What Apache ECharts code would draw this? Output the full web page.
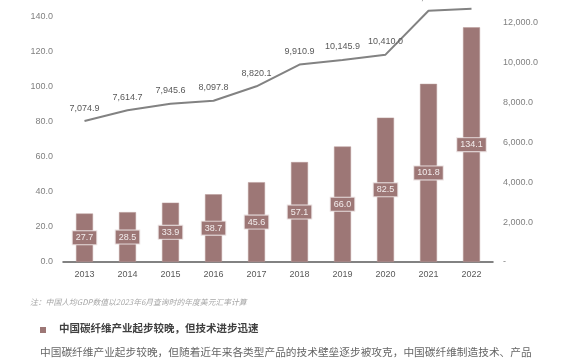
<!DOCTYPE html>
<html>
<head>
<meta charset="utf-8">
<script src="https://cdn.jsdelivr.net/npm/echarts@6/dist/echarts.min.js"></script>
<style>
html,body{margin:0;padding:0;background:#fff;}
#chart{width:570px;height:360px;}
</style>
</head>
<body>
<div id="chart"></div>
<script>
const years = ['2013','2014','2015','2016','2017','2018','2019','2020','2021','2022'];
const barValues = [27.7, 28.5, 33.9, 38.7, 45.6, 57.1, 66.0, 82.5, 101.8, 134.1];
const gdpValues = [7074.9, 7614.7, 7945.6, 8097.8, 8820.1, 9910.9, 10145.9, 10410.0, 12615.7, 12720.2];
const leftTicks = [0, 20, 40, 60, 80, 100, 120, 140];
const rightTicks = [0, 2000, 4000, 6000, 8000, 10000, 12000];
const noteText = '注：中国人均GDP数值以2023年6月查询时的年度美元汇率计算';
const headingText = '中国碳纤维产业起步较晚，但技术进步迅速';
const bodyText = '中国碳纤维产业起步较晚，但随着近年来各类型产品的技术壁垒逐步被攻克，中国碳纤维制造技术、产品';

function fmt1(v) {
  const s = Number(v).toFixed(1);
  const parts = s.split('.');
  parts[0] = parts[0].replace(/\B(?=(\d{3})+(?!\d))/g, ',');
  return parts.join('.');
}

const barColor = '#9d7776';
const numFont = '"Liberation Sans", Arial, sans-serif';
const cjkFont = '"Noto Sans CJK SC", "Liberation Sans", sans-serif';

const chart = echarts.init(document.getElementById('chart'));
chart.setOption({
  animation: false,
  backgroundColor: '#ffffff',
  grid: { left: 63, right: 77, top: 17, bottom: 98, containLabel: false },
  xAxis: {
    type: 'category',
    data: years,
    axisLine: { lineStyle: { color: '#595959', width: 1.5 } },
    axisTick: { show: false },
    axisLabel: { color: '#595959', fontSize: 9, fontFamily: numFont, margin: 8 }
  },
  yAxis: [
    {
      type: 'value', min: leftTicks[0], max: leftTicks[leftTicks.length - 1], interval: 20,
      axisLine: { show: false }, axisTick: { show: false }, splitLine: { show: false },
      axisLabel: { color: '#808080', fontSize: 9, fontFamily: numFont, margin: 10,
        formatter: v => fmt1(v) }
    },
    {
      type: 'value', min: rightTicks[0], max: 12300, interval: 2000,
      axisLine: { show: false }, axisTick: { show: false }, splitLine: { show: false },
      axisLabel: { color: '#808080', fontSize: 9, fontFamily: numFont, margin: 10,
        showMaxLabel: false,
        formatter: v => (v === 0 ? '-' : (rightTicks.indexOf(v) >= 0 ? fmt1(v) : '')) }
    }
  ],
  series: [
    {
      type: 'bar',
      yAxisIndex: 0,
      data: barValues,
      barWidth: 17,
      itemStyle: { color: barColor, borderColor: '#b99a99', borderWidth: 0.5 },
      label: {
        show: true, position: 'inside',
        formatter: p => fmt1(p.value),
        color: '#f3eded', fontSize: 9, fontFamily: numFont,
        backgroundColor: barColor, borderColor: '#e9dfdf', borderWidth: 1,
        padding: [2, 3, 2, 3]
      }
    },
    {
      type: 'line',
      yAxisIndex: 1,
      data: gdpValues,
      clip: false,
      symbol: 'circle',
      symbolSize: 1,
      showSymbol: true,
      itemStyle: { color: 'rgba(0,0,0,0)' },
      lineStyle: { color: '#828282', width: 2 },
      label: {
        show: true, position: 'top', distance: 8,
        formatter: p => fmt1(p.value),
        color: '#595959', fontSize: 9, fontFamily: numFont
      }
    }
  ],
  graphic: [
    { type: 'text', left: 30, top: 298,
      style: { text: noteText, fill: '#a6a6a6', font: 'italic 7.8px ' + cjkFont } },
    { type: 'rect', shape: { x: 40, y: 327, width: 6, height: 6 },
      style: { fill: barColor } },
    { type: 'text', left: 59, top: 323,
      style: { text: headingText, fill: '#404040', font: 'bold 10.5px ' + cjkFont } },
    { type: 'text', left: 40, top: 347,
      style: { text: bodyText, fill: '#666666', font: '10.7px ' + cjkFont } }
  ]
});
</script>
</body>
</html>
